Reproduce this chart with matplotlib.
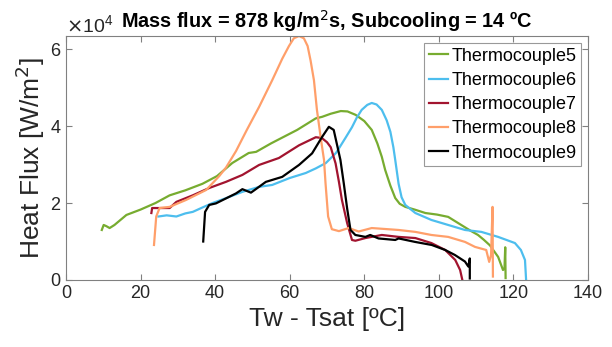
import matplotlib
matplotlib.use("Agg")
import matplotlib.pyplot as plt
from matplotlib.ticker import ScalarFormatter

plt.rcParams['font.family'] = ['Liberation Sans', 'DejaVu Sans']

labels = ["Thermocouple5", "Thermocouple6", "Thermocouple7", "Thermocouple8", "Thermocouple9"]
colors = ["#77AC30", "#4DBEEE", "#A2142F", "#FF9F6A", "#000000"]

# Thermocouple5 (green)
tc5_x = [9.6, 10.1, 10.8, 11.7, 13.0, 16.2, 20.0, 24.0, 27.8, 32.0, 36.6, 40.5, 44.6, 49.0, 51.0, 55.0, 58.0, 62.0, 67.0, 68.7, 71.0, 73.7, 75.5, 77.7, 80.0, 82.0, 83.5, 84.7, 85.6, 87.0, 88.3, 89.5, 91.0, 93.5, 96.4, 99.5, 102.5, 106.0, 108.5, 110.5, 112.0, 113.7, 115.9, 117.2, 117.6, 117.8, 117.9]
tc5_y = [13000, 14300, 14000, 13500, 14300, 16900, 18300, 20000, 22000, 23300, 25000, 27000, 30400, 33000, 33300, 35500, 37000, 39000, 42000, 42400, 43200, 43900, 43800, 42900, 41300, 39000, 35500, 32000, 28600, 24500, 21300, 19800, 19000, 18300, 17400, 17000, 16400, 14300, 12800, 11700, 10500, 9000, 6000, 2600, 3000, 8500, 500]

# Thermocouple6 (blue)
tc6_x = [24.8, 27.0, 29.6, 32.0, 34.0, 36.5, 39.3, 43.0, 47.3, 51.8, 55.3, 60.0, 64.3, 67.0, 69.7, 72.4, 73.2, 75.0, 76.7, 78.0, 79.3, 80.8, 82.0, 83.3, 84.7, 86.0, 87.0, 87.8, 88.3, 89.2, 90.0, 91.0, 93.7, 98.0, 102.5, 107.0, 111.4, 115.9, 120.4, 122.0, 123.1, 123.4]
tc6_y = [16500, 16800, 16500, 17300, 17700, 18800, 20000, 21300, 22900, 24200, 24700, 26500, 27800, 29000, 30400, 33000, 34200, 37000, 39700, 42200, 44200, 45500, 46000, 45600, 44200, 41500, 38500, 34500, 31200, 25000, 21500, 19500, 17400, 15600, 14300, 13000, 12500, 11200, 9600, 7800, 5200, 0]

# Thermocouple7 (dark red)
tc7_x = [22.9, 23.1, 25.0, 27.8, 29.6, 34.0, 38.4, 42.9, 47.3, 51.8, 57.1, 62.5, 67.0, 68.6, 70.0, 71.0, 72.3, 73.2, 74.0, 75.4, 76.7, 77.6, 80.3, 84.7, 89.2, 93.7, 98.0, 101.7, 104.4, 105.7, 106.3]
tc7_y = [17400, 18700, 18700, 18700, 20300, 22000, 23900, 25500, 27300, 29900, 31700, 35000, 37100, 36900, 35800, 34500, 30300, 25500, 20800, 14800, 10400, 10200, 10900, 11700, 11200, 10900, 9600, 7800, 5200, 2600, 0]

# Thermocouple8 (orange)
tc8_x = [23.6, 24.2, 25.1, 27.8, 32.2, 37.6, 41.1, 42.9, 45.6, 48.5, 51.8, 55.3, 58.0, 59.8, 61.1, 62.5, 63.8, 64.8, 65.6, 66.5, 67.3, 68.4, 69.2, 69.6, 70.3, 71.3, 73.2, 75.8, 78.5, 82.0, 89.2, 93.7, 98.0, 102.5, 107.0, 109.7, 112.7, 113.5, 114.0, 114.4, 114.5]
tc8_y = [9100, 16500, 18700, 19000, 20800, 23400, 27000, 29200, 33500, 39000, 45000, 51900, 57500, 60800, 62800, 63400, 62800, 60800, 57000, 51900, 44200, 36400, 31200, 25200, 16500, 13200, 12700, 13500, 12600, 13500, 13000, 12500, 11700, 11200, 9900, 8600, 7800, 4700, 6500, 19000, 900]

# Thermocouple9 (black)
tc9_x = [36.8, 37.3, 38.4, 40.2, 42.9, 45.6, 47.3, 49.6, 50.9, 53.6, 58.0, 62.5, 66.0, 68.7, 70.5, 71.8, 72.7, 73.6, 74.5, 75.4, 76.3, 77.6, 80.3, 81.6, 83.8, 88.3, 89.2, 93.6, 98.1, 101.7, 104.3, 107.0, 107.9, 108.3, 108.3]
tc9_y = [10000, 17700, 19500, 19900, 21200, 22500, 23600, 22700, 23600, 25500, 26800, 29900, 32900, 37200, 39800, 39000, 35100, 31200, 25100, 18600, 13000, 11700, 11200, 11700, 10800, 10400, 10800, 9900, 9100, 7800, 6500, 4800, 3500, 5600, 400]

series = [(tc5_x, tc5_y), (tc6_x, tc6_y), (tc7_x, tc7_y), (tc8_x, tc8_y), (tc9_x, tc9_y)]

fig = plt.figure(figsize=(6.12, 3.47), dpi=100)
ax = fig.add_axes([66/612, 1 - 280/347, (588-66)/612, (280-36)/347])

for (xs, ys), lab, c in zip(series, labels, colors):
    ax.plot(xs, ys, color=c, lw=1.6, label=lab)

ax.set_xlim(0, 140)
ax.set_ylim(0, 63400)
ax.set_xticks([0, 20, 40, 60, 80, 100, 120, 140])
ax.set_yticks([0, 20000, 40000, 60000])

fmt = ScalarFormatter(useMathText=True)
fmt.set_powerlimits((4, 4))
ax.yaxis.set_major_formatter(fmt)
ax.yaxis.get_offset_text().set_fontsize(14)
ax.yaxis.get_offset_text().set_color('#262626')

gray = '#808080'
for s in ax.spines.values():
    s.set_color(gray)
    s.set_linewidth(0.8)
ax.tick_params(direction='in', length=4, colors=gray, labelcolor='#262626', labelsize=13,
               top=True, right=True, width=0.8)

ax.set_xlabel("Tw - Tsat [ºC]", fontsize=19, color='#262626', labelpad=4)
ax.set_ylabel("Heat Flux [W/m$^2$]", fontsize=19, color='#262626', labelpad=2)
ax.set_title("Mass flux = 878 kg/m$^2$s, Subcooling = 14 ºC", fontsize=14.3, fontweight='bold', pad=6)

leg = ax.legend(loc='upper right', fontsize=13, frameon=True, fancybox=False,
                handlelength=1.1, handletextpad=0.15, borderpad=0.25, labelspacing=0.4,
                borderaxespad=0.4)
leg.get_frame().set_edgecolor(gray)
leg.get_frame().set_linewidth(0.8)

fig.savefig("out.png", dpi=100)
